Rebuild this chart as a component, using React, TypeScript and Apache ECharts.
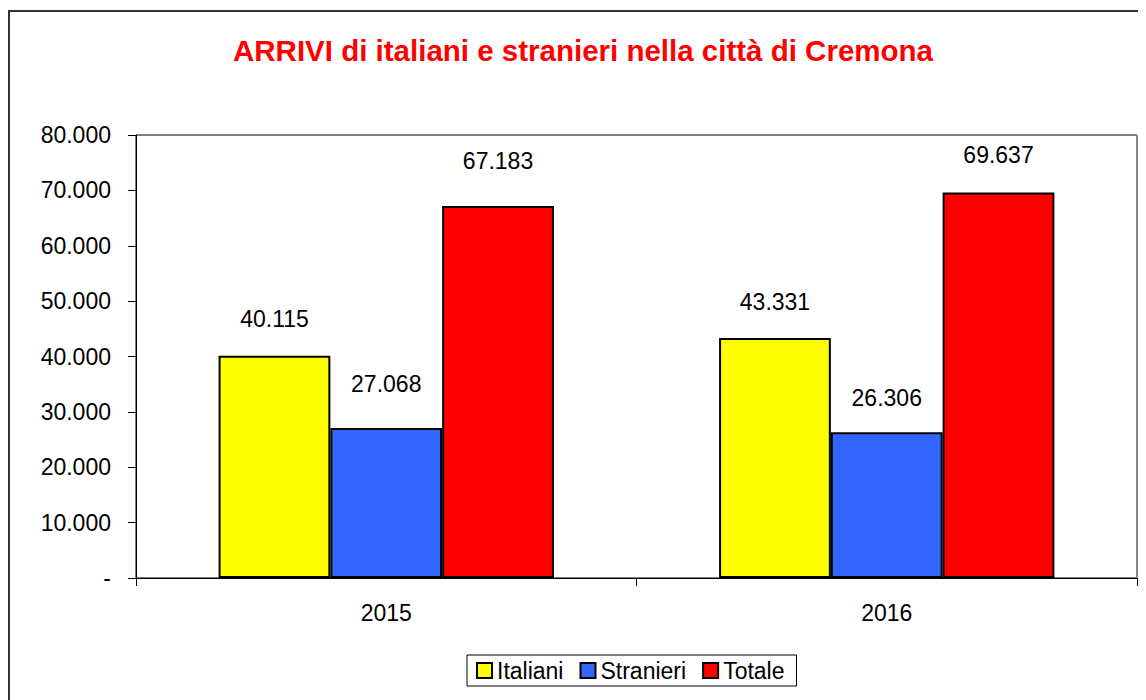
import React, { useEffect, useRef } from "react";
import * as echarts from "echarts";

const categories = ["2015", "2016"];
const italiani = [40115, 43331];
const stranieri = [27068, 26306];
const totale = [67183, 69637];
const seriesNames = ["Italiani", "Stranieri", "Totale"];
const yTicks = { min: 0, max: 80000, interval: 10000 };

const FONT = "Arial, 'Liberation Sans', Helvetica, sans-serif";

function fmt(v: number): string {
  if (v === 0) return "-";
  return String(Math.round(v)).replace(/\B(?=(\d{3})+(?!\d))/g, ".");
}

const labelDist: number[][] = [
  [25, 25],
  [33, 23],
  [33, 26],
];

export default function App() {
  const ref = useRef<HTMLDivElement>(null);
  useEffect(() => {
    if (!ref.current) return;
    document.body.style.overflow = "hidden";
    const chart = echarts.init(ref.current, null, { renderer: "svg" });
    const colors = ["#FFFF00", "#3366FF", "#FF0000"];
    const values = [italiani, stranieri, totale];
    chart.setOption({
      animation: false,
      backgroundColor: "#ffffff",
      textStyle: { fontFamily: FONT },
      title: {
        text: "ARRIVI di italiani e stranieri nella città di Cremona",
        left: 575,
        textAlign: "center",
        top: 27,
        padding: 0,
        textStyle: { color: "#FF0000", fontSize: 29.5, fontWeight: "bold", fontFamily: FONT },
      },
      legend: {
        data: seriesNames,
        left: 459,
        top: 647,
        orient: "horizontal",
        borderColor: "#000",
        borderWidth: 1,
        padding: [4, 12, 4, 9],
        itemGap: 16,
        itemWidth: 15,
        itemHeight: 15,
        icon: "rect",
        textStyle: { fontSize: 23, color: "#000", fontFamily: FONT },
        itemStyle: { borderColor: "#000", borderWidth: 2 },
      },
      grid: {
        left: 128,
        top: 127,
        right: 9,
        bottom: 122,
        show: true,
        borderColor: "#000",
        borderWidth: 1,
        backgroundColor: "#fff",
      },
      xAxis: {
        type: "category",
        data: categories,
        axisLine: { lineStyle: { color: "#000", width: 1 } },
        axisTick: { show: true, length: 8, lineStyle: { color: "#000" } },
        axisLabel: { fontSize: 23, color: "#000", margin: 23, fontFamily: FONT },
      },
      yAxis: {
        type: "value",
        min: yTicks.min,
        max: yTicks.max,
        interval: yTicks.interval,
        splitLine: { show: false },
        axisLine: { show: true, lineStyle: { color: "#000", width: 1 } },
        axisTick: { show: true, length: 8, lineStyle: { color: "#000" } },
        axisLabel: {
          fontSize: 23,
          color: "#000",
          margin: 25,
          fontFamily: FONT,
          formatter: (v: number) => fmt(v),
        },
      },
      graphic: [
        {
          type: "rect",
          shape: { x: 1, y: 3, width: 1300, height: 900 },
          style: { fill: "none", stroke: "#333", lineWidth: 2 },
          silent: true,
          z: 100,
        },
        {
          type: "line",
          shape: { x1: 1129, y1: 127, x2: 1129, y2: 570 },
          style: { stroke: "#888", lineWidth: 2 },
          silent: true,
          z: 100,
        },
      ],
      series: seriesNames.map((name, si) => ({
        name,
        type: "bar",
        barGap: "0%",
        barCategoryGap: "33%",
        itemStyle: { color: colors[si], borderColor: "#000", borderWidth: 2 },
        data: values[si].map((v, ci) => ({
          value: v,
          label: { distance: labelDist[si][ci] },
        })),
        label: {
          show: true,
          position: "top",
          fontSize: 23,
          color: "#000",
          fontFamily: FONT,
          formatter: (p: any) => fmt(p.value),
        },
      })),
    });
    return () => chart.dispose();
  }, []);
  return <div ref={ref} style={{ width: 1138, height: 692 }} />;
}
